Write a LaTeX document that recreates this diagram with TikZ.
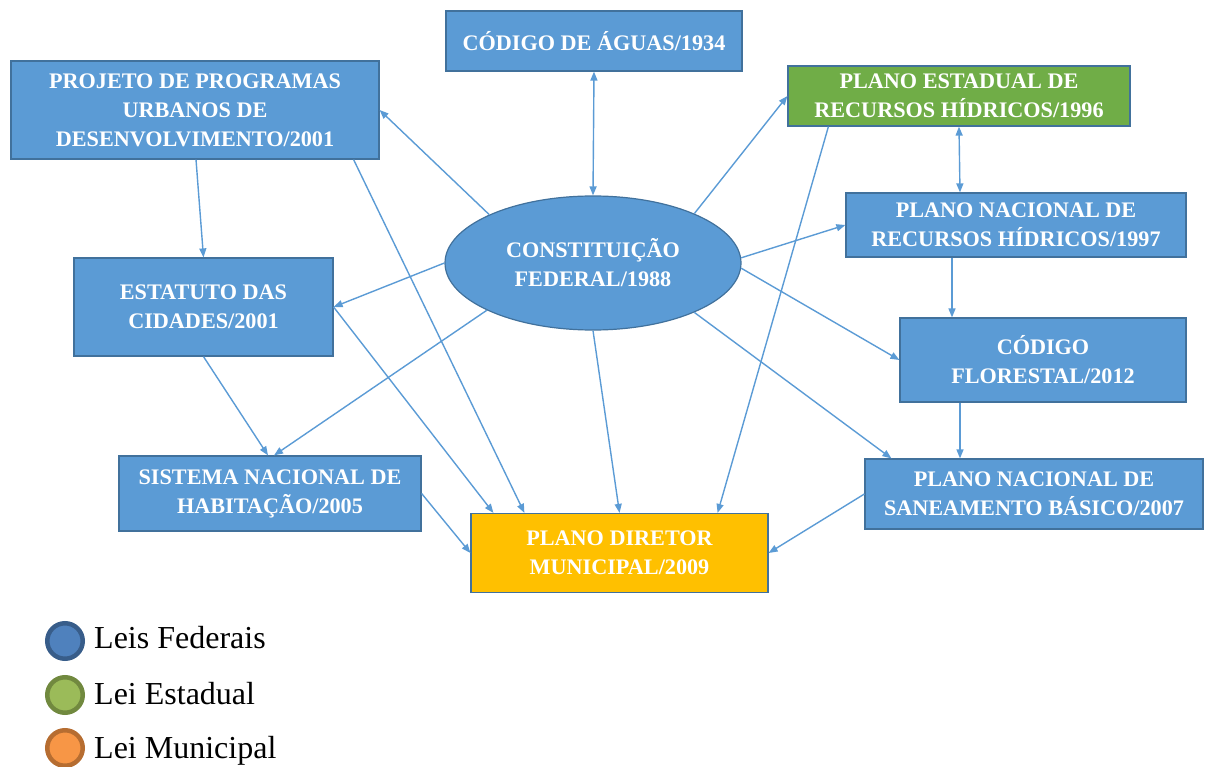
\documentclass[tikz,border=0pt]{standalone}
\usepackage{fontspec}
\setmainfont{Liberation Serif}
\usepackage{xcolor}
\usepackage{tikz}
\usetikzlibrary{arrows.meta, positioning, calc, shapes.geometric}

\definecolor{caixa}{HTML}{5B9BD5}
\definecolor{borda}{HTML}{41719C}
\definecolor{verde}{HTML}{70AD47}
\definecolor{amarelo}{HTML}{FFC000}
\definecolor{legazul}{HTML}{4F81BD}
\definecolor{legazulb}{HTML}{385D8A}
\definecolor{legverde}{HTML}{9BBB59}
\definecolor{legverdeb}{HTML}{71893F}
\definecolor{leglaranja}{HTML}{F79646}
\definecolor{leglaranjab}{HTML}{B66D31}

\tikzset{
    lei/.style={rectangle, draw=borda, fill=caixa, line width=1.2pt, text=white,
        align=center, inner sep=0pt, font=\bfseries\fontsize{22.2}{29}\selectfont},
    seta/.style={draw=caixa, line width=1.4pt, -{Triangle[length=9pt,width=7pt]}},
    seta2/.style={draw=caixa, line width=1.4pt, {Triangle[length=9pt,width=7pt]}-{Triangle[length=9pt,width=7pt]}},
    bola/.style={circle, line width=4.5pt, minimum size=35.5pt, inner sep=0pt},
    legenda/.style={anchor=base west, inner sep=0pt, font=\fontsize{32}{36}\selectfont}
}

\begin{document}
\begin{tikzpicture}[x=1pt, y=-1pt]
    \useasboundingbox (0,0) rectangle (1205,767);

    % leis
    \node[lei, ellipse, minimum width=296pt, minimum height=134pt] (cf) at (593,263) {CONSTITUIÇÃO\\FEDERAL/1988};
    \node[lei, minimum width=296pt, minimum height=60pt] (agua) at (594,41) {CÓDIGO DE ÁGUAS/1934};
    \node[lei, minimum width=368pt, minimum height=98pt] (proj) at (195,110) {PROJETO DE PROGRAMAS\\URBANOS DE\\DESENVOLVIMENTO/2001};
    \node[lei, fill=verde, minimum width=342pt, minimum height=60pt] (pe) at (959,96) {PLANO ESTADUAL DE\\RECURSOS HÍDRICOS/1996};
    \node[lei, minimum width=340pt, minimum height=64pt] (pnrh) at (1016,225) {PLANO NACIONAL DE\\RECURSOS HÍDRICOS/1997};
    \node[lei, minimum width=286pt, minimum height=84pt] (cflo) at (1043,360) {CÓDIGO\\FLORESTAL/2012};
    \node[lei, minimum width=259pt, minimum height=98pt] (est) at (203.5,307) {ESTATUTO DAS\\CIDADES/2001};
    \node[lei, minimum width=302pt, minimum height=75pt] (snh) at (270,493.5) {SISTEMA NACIONAL DE\\HABITAÇÃO/2005};
    \node[lei, minimum width=338pt, minimum height=70pt] (pns) at (1034,494) {PLANO NACIONAL DE\\SANEAMENTO BÁSICO/2007};
    \node[lei, fill=amarelo, minimum width=297pt, minimum height=79pt] (pd) at (619.5,553) {PLANO DIRETOR\\MUNICIPAL/2009};

    % ligacoes
    \draw[seta2] (cf.north) -- (agua.south);
    \draw[seta2] (pe.south) -- ([xshift=-56pt]pnrh.north);
    \draw[seta] (cf.155) -- (proj.east);
    \draw[seta] (cf.26) -- (pe.west);
    \draw[seta] (cf.2) -- (pnrh.west);
    \draw[seta] (cf.-2) -- (cflo.west);
    \draw[seta] (cf.-26) -- ([xshift=27pt]pns.north west);
    \draw[seta] (cf.south) -- (pd.north);
    \draw[seta] (cf.204) -- ([xshift=4pt]snh.north);
    \draw[seta] (cf.west) -- (est.east);
    \draw[seta] ([xshift=-64pt]pnrh.south) -- ([xshift=-91pt]cflo.north);
    \draw[seta] ([xshift=-83pt]cflo.south) -- ([xshift=-74pt]pns.north);
    \draw[seta] (pns.west) -- (pd.east);
    \draw[seta] ([xshift=41pt]pe.south west) -- ([xshift=-51pt]pd.north east);
    \draw[seta] ([xshift=1pt]proj.south) -- (est.north);
    \draw[seta] ([xshift=-26pt]proj.south east) -- ([xshift=54pt]pd.north west);
    \draw[seta] (est.south) -- ([xshift=-2pt]snh.north);
    \draw[seta] (est.east) -- ([xshift=23pt]pd.north west);
    \draw[seta] (snh.east) -- (pd.west);

    % legenda
    \node[bola, draw=legazulb, fill=legazul] (bfed) at (65,641) {};
    \node[bola, draw=legverdeb, fill=legverde] (best) at (65,695) {};
    \node[bola, draw=leglaranjab, fill=leglaranja] (bmun) at (65,748) {};
    \node[legenda] (tfed) at (94,648) {Leis Federais};
    \node[legenda] (test) at (94,704) {Lei Estadual};
    \node[legenda] (tmun) at (94,758) {Lei Municipal};
\end{tikzpicture}
\end{document}
